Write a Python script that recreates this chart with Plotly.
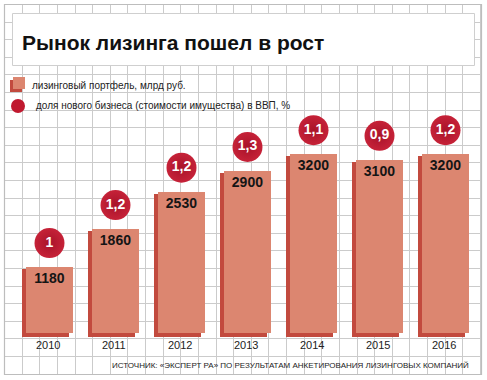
import plotly.graph_objects as go

years = ["2010", "2011", "2012", "2013", "2014", "2015", "2016"]
portfolio = [1180, 1860, 2530, 2900, 3200, 3100, 3200]
share_gdp = ["1", "1,2", "1,2", "1,3", "1,1", "0,9", "1,2"]

title_text = "Рынок лизинга пошел в рост"
legend_bar = "лизинговый портфель, млрд руб."
legend_dot = "доля нового бизнеса (стоимости имущества) в ВВП, %"
source_text = "ИСТОЧНИК: «ЭКСПЕРТ РА» ПО РЕЗУЛЬТАТАМ АНКЕТИРОВАНИЯ ЛИЗИНГОВЫХ КОМПАНИЙ"

W, H = 487, 380
UPP = 17.9       # data units per pixel
BASE_PX = 333    # pixel row of value zero
CAT_PX = 66.0    # pixels per category
CAT0_PX = 47.5   # pixel column of first category

FACE = "#dc8670"
DARK = "#c24a3e"
GRID = "#cbcbcb"

xs = list(range(len(years)))
face_w = 47 / CAT_PX
shift = 2 / CAT_PX

fig = go.Figure()

fig.add_trace(go.Bar(
    x=xs, y=[v + 2 * UPP for v in portfolio], base=-4 * UPP,
    width=face_w, offset=-face_w / 2 - shift,
    marker=dict(color=DARK, line=dict(width=0)), hoverinfo="skip", showlegend=False))
fig.add_trace(go.Bar(
    x=xs, y=portfolio, width=face_w, offset=-face_w / 2 + shift,
    marker=dict(color=FACE, line=dict(width=0)),
    text=[str(v) for v in portfolio], textposition="inside", insidetextanchor="end",
    textangle=0, constraintext="none",
    textfont=dict(family="Liberation Sans", size=14, color="#151515", weight="bold"),
    showlegend=False))
fig.add_trace(go.Scatter(
    x=[i + shift for i in xs], y=[v + 24 * UPP for v in portfolio],
    mode="markers+text", text=share_gdp, textposition="middle center",
    textfont=dict(family="Liberation Sans", size=14, color="white", weight="bold"),
    marker=dict(size=30, color="#c62238", line=dict(width=0),
                gradient=dict(type="radial", color="#a8132a")),
    showlegend=False, cliponaxis=False))

shapes = []
sx, sy = 17.63, 17.6
x0g, y0g = 4.5, 4.5
nx, ny = 28, 22
xend = round(x0g + (nx - 1) * sx) + 0.5
yend = round(y0g + (ny - 1) * sy) + 0.5
for k in range(nx):
    xp = round(x0g + k * sx - 0.5) + 0.5
    shapes.append(dict(type="line", xref="paper", yref="paper", layer="below",
                       x0=xp / W, x1=xp / W, y0=1 - y0g / H, y1=1 - yend / H,
                       line=dict(color=GRID, width=1)))
for k in range(ny):
    yp = round(y0g + k * sy - 0.5) + 0.5
    shapes.append(dict(type="line", xref="paper", yref="paper", layer="below",
                       x0=x0g / W, x1=xend / W, y0=1 - yp / H, y1=1 - yp / H,
                       line=dict(color=GRID, width=1)))
shapes.append(dict(type="rect", xref="paper", yref="paper", layer="below",
                   x0=x0g / W, x1=xend / W, y0=1 - y0g / H, y1=1 - yend / H,
                   line=dict(color="#bdbdbd", width=1.2)))
shapes.append(dict(type="rect", xref="paper", yref="paper", layer="below",
                   x0=12.5 / W, x1=474.5 / W, y0=1 - 13.5 / H, y1=1 - 65.5 / H,
                   fillcolor="white", line=dict(color="#cfcfcf", width=1)))
shapes.append(dict(type="rect", xref="paper", yref="paper", layer="above",
                   x0=10 / W, x1=22 / W, y0=1 - 80 / H, y1=1 - 92 / H,
                   fillcolor=DARK, line=dict(width=0)))
shapes.append(dict(type="rect", xref="paper", yref="paper", layer="above",
                   x0=13 / W, x1=25 / W, y0=1 - 77 / H, y1=1 - 89 / H,
                   fillcolor=FACE, line=dict(width=0)))
shapes.append(dict(type="circle", xref="paper", yref="paper", layer="above",
                   x0=11 / W, x1=25 / W, y0=1 - 99 / H, y1=1 - 113 / H,
                   fillcolor="#c0192f", line=dict(width=0)))

annotations = [
    dict(text=title_text, xref="paper", yref="paper", x=20 / W, y=1 - 42 / H,
         xanchor="left", yanchor="middle", showarrow=False,
         font=dict(family="Liberation Sans", size=21, color="#111", weight="bold")),
    dict(text=legend_bar, xref="paper", yref="paper", x=30 / W, y=1 - 85 / H,
         xanchor="left", yanchor="middle", showarrow=False,
         font=dict(family="Liberation Sans", size=10, color="#222")),
    dict(text=legend_dot, xref="paper", yref="paper", x=34 / W, y=1 - 106 / H,
         xanchor="left", yanchor="middle", showarrow=False,
         font=dict(family="Liberation Sans", size=10, color="#222")),
    dict(text=source_text, xref="paper", yref="paper", x=471 / W, y=1 - 365 / H,
         xanchor="right", yanchor="middle", showarrow=False,
         font=dict(family="Liberation Sans", size=8, color="#222")),
]
for i, yr in enumerate(years):
    annotations.append(dict(text=yr, xref="x", yref="paper", x=i, y=1 - 345 / H,
                            xanchor="center", yanchor="middle", showarrow=False,
                            font=dict(family="Liberation Sans", size=11, color="#222")))

fig.update_layout(
    width=W, height=H, margin=dict(l=0, r=0, t=0, b=0),
    paper_bgcolor="white", plot_bgcolor="rgba(0,0,0,0)",
    barmode="overlay", bargap=0,
    xaxis=dict(range=[-CAT0_PX / CAT_PX, (W - CAT0_PX) / CAT_PX], domain=[0, 1],
               visible=False, fixedrange=True),
    yaxis=dict(range=[-(H - BASE_PX) * UPP, BASE_PX * UPP], domain=[0, 1],
               visible=False, fixedrange=True),
    shapes=shapes, annotations=annotations, showlegend=False,
)

fig.write_html("out.html", config={"displayModeBar": False},
               post_script="document.body.style.margin='0';document.body.style.padding='0';")
